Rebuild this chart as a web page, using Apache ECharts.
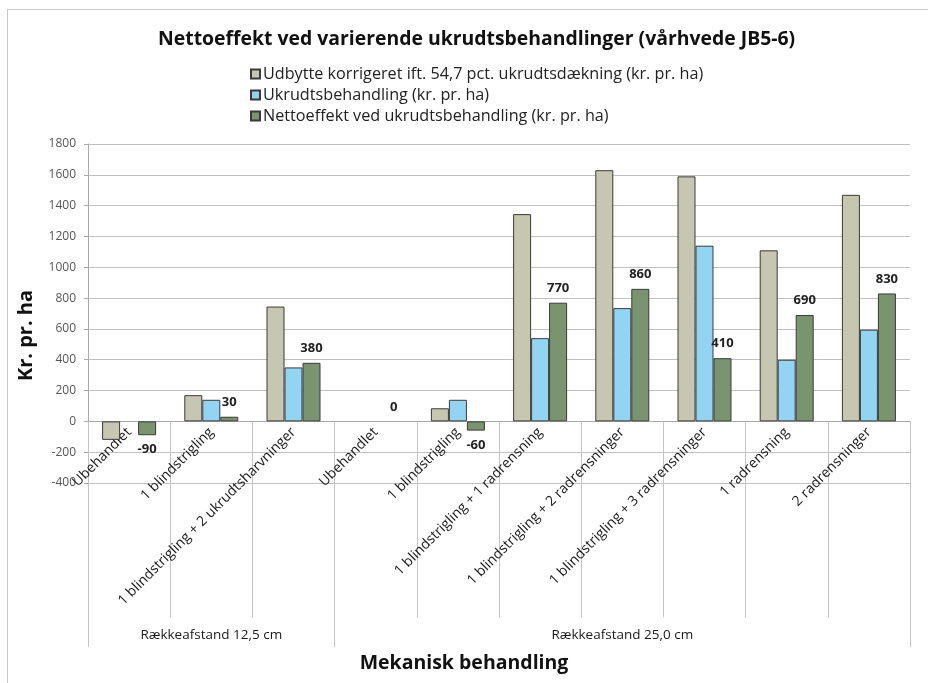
<!DOCTYPE html>
<html>
<head>
<meta charset="utf-8">
<script src="https://cdn.jsdelivr.net/npm/echarts@6/dist/echarts.min.js"></script>
<style>
  html, body { margin: 0; padding: 0; background: #fff; }
  #chart { width: 928px; height: 683px; }
</style>
</head>
<body>
<div id="chart"></div>
<script>
// treatments along the x axis
const categories = [
  'Ubehandlet',
  '1 blindstrigling',
  '1 blindstrigling + 2 ukrudtsharvninger',
  'Ubehandlet',
  '1 blindstrigling',
  '1 blindstrigling + 1 radrensning',
  '1 blindstrigling + 2 radrensninger',
  '1 blindstrigling + 3 radrensninger',
  '1 radrensning',
  '2 radrensninger'
]
// row spacing groups and how many treatments each holds
const groupNames = ['Rækkeafstand 12,5 cm', 'Rækkeafstand 25,0 cm']
const groupSizes = [3, 7]

const seriesNames = [
  'Udbytte korrigeret ift. 54,7 pct. ukrudtsdækning (kr. pr. ha)',
  'Ukrudtsbehandling (kr. pr. ha)',
  'Nettoeffekt ved ukrudtsbehandling (kr. pr. ha)'
]
const yieldValues = [-120, 170, 745, 0, 85, 1345, 1630, 1590, 1110, 1470]
const treatmentValues = [0, 140, 350, 0, 140, 540, 735, 1140, 400, 595]
const netValues = [-90, 30, 380, 0, -60, 770, 860, 410, 690, 830]

const yTicks = { min: -400, max: 1800, interval: 200 }

// group borders and centres on a 0..n scale
const groupEdges = [0]
groupSizes.forEach((n) => groupEdges.push(groupEdges[groupEdges.length - 1] + n))
const groupCenters = groupSizes.map((n, i) => groupEdges[i] + n / 2)

const font = '"Open Sans", "Liberation Sans", sans-serif'
const colors = ['#c7c6b1', '#94d4f3', '#7a946f']

const chart = echarts.init(document.getElementById('chart'))

// zero-height bars get no outline
const withStyle = (values, color) =>
  values.map((v) => ({
    value: v,
    itemStyle: { color: color, borderColor: '#3a3a3a', borderWidth: v === 0 ? 0 : 1 }
  }))

const option = {
  animation: false,
  textStyle: { fontFamily: font },
  title: [
    {
      text: 'Nettoeffekt ved varierende ukrudtsbehandlinger (vårhvede JB5-6)',
      left: 153,
      top: 25,
      textStyle: { fontFamily: font, fontSize: 19.4, fontWeight: 'bold', color: '#111' }
    },
    {
      text: 'Mekanisk behandling',
      left: 'center',
      top: 648,
      textStyle: { fontFamily: font, fontSize: 19.5, fontWeight: 'bold', color: '#111' }
    }
  ],
  graphic: [
    {
      type: 'rect',
      silent: true,
      z: -10,
      shape: { x: 7.5, y: 9.5, width: 960, height: 720 },
      style: { fill: 'none', stroke: '#c8c8c8', lineWidth: 1 }
    }
  ],
  legend: {
    orient: 'vertical',
    left: 245,
    top: 61,
    itemWidth: 9,
    itemHeight: 9,
    itemGap: 5,
    icon: 'rect',
    textStyle: { fontFamily: font, fontSize: 16.2, color: '#222', padding: [0, 0, 0, -2] },
    data: seriesNames
  },
  grid: {
    left: 88,
    right: 18,
    top: 144,
    bottom: 200,
    containLabel: false,
    outerBoundsMode: 'none'
  },
  xAxis: [
    {
      type: 'category',
      data: categories,
      axisLine: { onZero: true, lineStyle: { color: '#a8a8a8' } },
      axisTick: { show: true, length: 196, lineStyle: { color: '#c4c4c4' } },
      axisLabel: {
        interval: 0,
        rotate: 45,
        // labels are laid out from the grid bottom (-400), pull them up to the zero line
        margin: -53,
        fontFamily: font,
        fontSize: 14,
        color: '#1a1a1a'
      },
      splitLine: { show: false }
    },
    {
      // group row under the treatments, sits on the grid bottom (-400)
      type: 'value',
      min: groupEdges[0],
      max: groupEdges[groupEdges.length - 1],
      position: 'bottom',
      axisLine: { show: false, onZero: false },
      splitLine: { show: false },
      axisTick: {
        show: true,
        customValues: groupEdges,
        length: 164,
        lineStyle: { color: '#c4c4c4' }
      },
      axisLabel: {
        customValues: groupCenters,
        formatter: (v) => groupNames[groupCenters.indexOf(v)] || '',
        margin: 145,
        fontFamily: font,
        fontSize: 13.5,
        color: '#1a1a1a'
      }
    }
  ],
  yAxis: {
    type: 'value',
    min: yTicks.min,
    max: yTicks.max,
    interval: yTicks.interval,
    name: 'Kr. pr. ha',
    nameLocation: 'middle',
    nameGap: 52,
    nameTextStyle: { fontFamily: font, fontSize: 20, fontWeight: 'bold', color: '#111', padding: [0, 0, 0, -44] },
    axisLine: { show: true, onZero: false, lineStyle: { color: '#a8a8a8' } },
    axisTick: { show: true, length: 4, lineStyle: { color: '#a8a8a8' } },
    axisLabel: { margin: 12, fontFamily: font, fontSize: 12, color: '#555', formatter: (v) => String(v) },
    splitLine: { lineStyle: { color: '#c0c0c0' } }
  },
  series: [
    {
      name: seriesNames[0],
      type: 'bar',
      barWidth: 18,
      barGap: '0%',
      itemStyle: { color: colors[0], borderColor: '#3a3a3a', borderWidth: 1 },
      data: withStyle(yieldValues, colors[0])
    },
    {
      name: seriesNames[1],
      type: 'bar',
      barWidth: 18,
      barGap: '0%',
      itemStyle: { color: colors[1], borderColor: '#3a3a3a', borderWidth: 1 },
      data: withStyle(treatmentValues, colors[1])
    },
    {
      name: seriesNames[2],
      type: 'bar',
      barWidth: 18,
      barGap: '0%',
      itemStyle: { color: colors[2], borderColor: '#3a3a3a', borderWidth: 1 },
      label: {
        show: true,
        position: 'top',
        distance: 8,
        fontFamily: font,
        fontSize: 13,
        fontWeight: 'bold',
        color: '#222'
      },
      data: withStyle(netValues, colors[2]).map((d) =>
        d.value < 0 ? Object.assign(d, { label: { position: 'bottom' } }) : d
      )
    }
  ]
}

chart.setOption(option)
</script>
</body>
</html>
